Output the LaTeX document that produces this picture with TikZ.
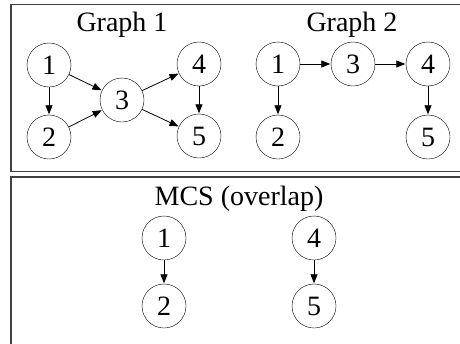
\documentclass[tikz,border=0pt]{standalone}
\usepackage{fontspec}
\setmainfont{Liberation Serif}
\usetikzlibrary{arrows.meta}

\begin{document}
\begin{tikzpicture}[x=1pt, y=-1pt]
	\tikzstyle{vertex} = [circle, minimum size=44pt, inner sep=0pt, draw=black, fill=white, font=\fontsize{28}{30}\selectfont]
	\tikzstyle{title}  = [anchor=base, inner sep=0pt, font=\fontsize{28}{30}\selectfont]
	\tikzstyle{frame}  = [draw=black!75, line width=1.5pt]
	\tikzstyle{arc}    = [-{Triangle[length=9pt, width=7pt]}, line width=0.8pt, shorten >=0.5pt]

	\useasboundingbox (0,0) rectangle (460,343);
	\clip (0,0) rectangle (460,343);

	% the two frames (cut off at the right and at the bottom)
	\draw[frame] (11,4.5) rectangle (475,171.5);
	\draw[frame] (11,177) rectangle (475,360);

	% Graph 1
	\node[title] (t1) at (122,31) {Graph 1};
	\foreach \text/\x/\y in {1/49/65, 2/49/137, 3/122/100, 4/199/64, 5/199/136}
		\node[vertex] (a\text) at (\x, \y) {\text};
	\foreach \from/\to in {1/2, 1/3, 2/3, 3/4, 3/5, 4/5}
		\draw[arc] (a\from) -- (a\to);

	% Graph 2
	\node[title] (t2) at (352,31) {Graph 2};
	\foreach \text/\x/\y in {1/278/64, 2/278/137, 3/353/64, 4/428/64, 5/428/137}
		\node[vertex] (b\text) at (\x, \y) {\text};
	\foreach \from/\to in {1/3, 3/4, 1/2, 4/5}
		\draw[arc] (b\from) -- (b\to);

	% MCS
	\node[title] (t3) at (239,205) {MCS (overlap)};
	\foreach \text/\x/\y in {1/164/238, 2/164/306, 4/314/238, 5/314/306}
		\node[vertex] (m\text) at (\x, \y) {\text};
	\foreach \from/\to in {1/2, 4/5}
		\draw[arc] (m\from) -- (m\to);

\end{tikzpicture}
\end{document}
